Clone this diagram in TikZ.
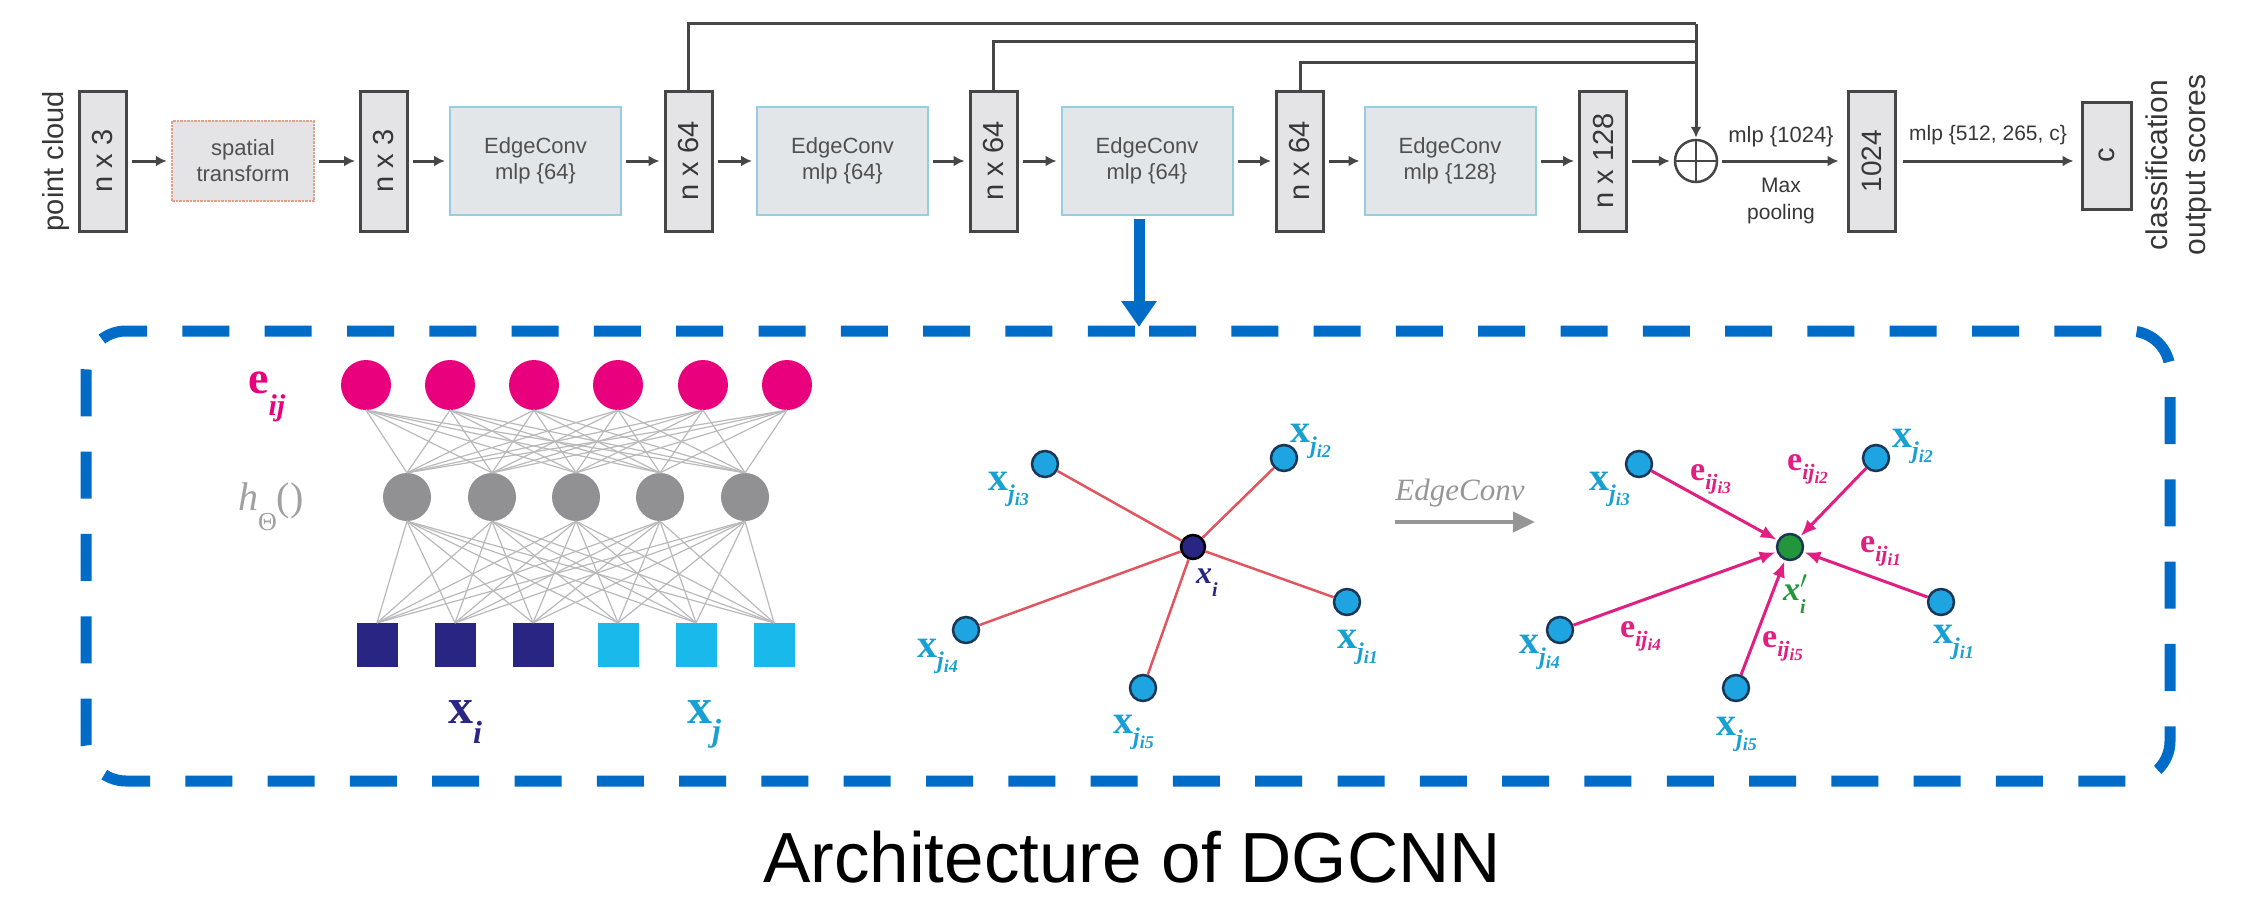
\documentclass[tikz,border=0pt]{standalone}
\usepackage{fontspec}
\setmainfont{Liberation Sans}
\newfontfamily\tms{Liberation Serif}
\usetikzlibrary{arrows.meta}

\definecolor{boxgray}{RGB}{228,228,230}
\definecolor{boxline}{RGB}{70,70,70}
\definecolor{ecfill}{RGB}{226,230,233}
\definecolor{ecline}{RGB}{150,205,225}
\definecolor{stline}{RGB}{225,160,140}
\definecolor{txtgray}{RGB}{55,55,55}
\definecolor{ectext}{RGB}{80,80,80}
\definecolor{dgblue}{RGB}{0,108,200}
\definecolor{pinkn}{RGB}{233,0,125}
\definecolor{grayn}{RGB}{145,145,148}
\definecolor{navyn}{RGB}{40,38,130}
\definecolor{cyann}{RGB}{25,185,235}
\definecolor{cyanpt}{RGB}{30,165,225}
\definecolor{cyantxt}{RGB}{25,160,210}
\definecolor{ptline}{RGB}{25,55,85}
\definecolor{rededge}{RGB}{225,85,95}
\definecolor{magedge}{RGB}{225,30,130}
\definecolor{greenn}{RGB}{35,150,60}
\definecolor{netline}{RGB}{185,185,185}
\definecolor{hgray}{RGB}{160,160,160}
\definecolor{arrgray}{RGB}{150,150,150}

\newcommand\fs[2]{\fontsize{#1}{#2}\selectfont}
% neighbour point label x_{j_{ik}}
\newcommand\xj[1]{{\tms\fs{40}{40}\bfseries x\raisebox{-11pt}{\fs{24}{24}\itshape j\raisebox{-4pt}{\fs{18}{18}i#1}}}}
% edge feature label e_{ij_{ik}}
\newcommand\eij[1]{{\tms\fs{34}{34}\bfseries e\raisebox{-9pt}{\fs{22}{22}\itshape ij\raisebox{-4pt}{\fs{17}{17}i#1}}}}

\begin{document}
\begin{tikzpicture}[x=1pt,y=-1pt,
  vbox/.style={draw=boxline,line width=3pt,fill=boxgray,minimum width=47pt,minimum height=140pt,inner sep=0pt},
  vlab/.style={rotate=90,inner sep=0pt,font=\fs{29}{29},text=txtgray},
  ecbox/.style={draw=ecline,line width=2pt,fill=ecfill,minimum width=171pt,minimum height=108pt,inner sep=0pt,align=center,font=\fs{22}{26},text=ectext},
  flow/.style={draw=boxline,line width=3pt,-{Latex[length=11pt,width=11pt]},shorten <=4pt,shorten >=4pt},
  skipline/.style={draw=boxline,line width=3pt},
  pinkc/.style={circle,fill=pinkn,minimum size=50pt,inner sep=0pt},
  grayc/.style={circle,fill=grayn,minimum size=48pt,inner sep=0pt},
  sqi/.style={fill=navyn,minimum width=41pt,minimum height=44pt,inner sep=0pt},
  sqj/.style={fill=cyann,minimum width=41pt,minimum height=44pt,inner sep=0pt},
  netl/.style={draw=netline,line width=1.2pt},
  ptnode/.style={circle,draw=ptline,line width=2.5pt,fill=cyanpt,minimum size=26pt,inner sep=0pt},
  lab/.style={anchor=base west,inner sep=0pt},
  rline/.style={draw=rededge,line width=2.5pt},
  marrow/.style={draw=magedge,line width=3pt,-{Latex[length=16pt,width=13pt]},shorten >=1pt},
  toptxt/.style={inner sep=0pt,text=txtgray}
]
\useasboundingbox (0,0) rectangle (2254,899);

% ---------------- pipeline ----------------
\node[toptxt,rotate=90,font=\fs{29}{29}] (pc) at (56,161) {point cloud};

\node[vbox] (b1) at (102.5,161) {};
\node[vlab] (b1t) at (b1) {n x 3};

\node[draw=stline,densely dotted,line width=2.5pt,fill=boxgray,minimum width=142pt,minimum height=80pt,
      align=center,font=\fs{22}{26},text=ectext] (sp) at (243,161) {spatial\\transform};

\node[vbox] (b2) at (384,161) {};
\node[vlab] (b2t) at (b2) {n x 3};

\node[ecbox] (ec1) at (535.5,161) {EdgeConv\\mlp \{64\}};

\node[vbox] (b3) at (688.5,161) {};
\node[vlab] (b3t) at (b3) {n x 64};

\node[ecbox] (ec2) at (842.5,161) {EdgeConv\\mlp \{64\}};

\node[vbox] (b4) at (993.5,161) {};
\node[vlab] (b4t) at (b4) {n x 64};

\node[ecbox] (ec3) at (1147,161) {EdgeConv\\mlp \{64\}};

\node[vbox] (b5) at (1300,161) {};
\node[vlab] (b5t) at (b5) {n x 64};

\node[ecbox] (ec4) at (1450,161) {EdgeConv\\mlp \{128\}};

\node[vbox] (b6) at (1603,161) {};
\node[vlab] (b6t) at (b6) {n x 128};

\node[circle,draw=boxline,line width=2.5pt,minimum size=42pt,inner sep=0pt] (op) at (1696,161) {};
\draw[boxline,line width=2pt] (op.north) -- (op.south) (op.west) -- (op.east);

\node[vbox] (b7) at (1871.5,161) {};
\node[vlab,font=\fs{28}{28}] (b7t) at (b7) {1024};

\node[vbox,minimum width=49pt,minimum height=107pt] (cb) at (2106.5,155.5) {};
\node[vlab] (cbt) at (cb) {c};

\node[toptxt,rotate=90,align=center,font=\fs{30}{38}] (cls) at (2179,165) {classification\\output scores};

\node[toptxt,font=\fs{22}{22}] (mlpa) at (1781,137) {mlp \{1024\}};
\node[toptxt,align=center,font=\fs{21}{27}] (maxp) at (1781,201) {Max\\pooling};
\node[toptxt,font=\fs{21}{21}] (mlpb) at (1988,135) {mlp \{512, 265, c\}};

\draw[flow] (b1) -- (sp);
\draw[flow] (sp) -- (b2);
\draw[flow] (b2) -- (ec1);
\draw[flow] (ec1) -- (b3);
\draw[flow] (b3) -- (ec2);
\draw[flow] (ec2) -- (b4);
\draw[flow] (b4) -- (ec3);
\draw[flow] (ec3) -- (b5);
\draw[flow] (b5) -- (ec4);
\draw[flow] (ec4) -- (b6);
\draw[flow] (b6) -- (op);
\draw[flow,shorten >=8pt] (op) -- (b7);
\draw[flow,shorten <=6pt,shorten >=7pt] (b7.east) -- (b7.east -| cb.west);

% skip connections into the concatenation
\coordinate (s1) at (1696,24);
\coordinate (s2) at (1696,42);
\coordinate (s3) at (1696,63);
\draw[skipline] (b3.north) |- (s1);
\draw[skipline] (b4.north) |- (s2);
\draw[skipline] (b5.north) |- (s3);
\draw[flow,shorten <=0pt,shorten >=1pt] (s1) -- (op.north);

% zoom arrow into the EdgeConv detail
\coordinate (za) at (1139,219);
\coordinate (zb) at (1139,327);
\draw[dgblue,line width=11pt,-{Triangle[length=26pt,width=34pt]}] (za) -- (zb);

% dashed frame of the detail panel
\draw[dgblue,line width=11pt,dash pattern=on 47pt off 35.3pt,rounded corners=40pt]
  (1109,331) -- (2170,331) -- (2170,781) -- (86,781) -- (86,331) -- cycle;

% ---------------- edge function network ----------------
\foreach \xx [count=\k] in {366,450,534,618,703,787}
  \node[pinkc] (p\k) at (\xx,385) {};
\foreach \xx [count=\k] in {407,492,576,660,745}
  \node[grayc] (g\k) at (\xx,497) {};
\foreach \xx [count=\k] in {377,455,533}
  \node[sqi] (q\k) at (\xx,645) {};
\foreach \xx [count=\k from 4] in {618,696,774}
  \node[sqj] (q\k) at (\xx,645) {};

\foreach \ii in {1,...,6}{
  \foreach \jj in {1,...,5}{
    \draw[netl] (q\ii.north) -- (g\jj.south);
    \draw[netl] (g\jj.north) -- (p\ii.south);
  }
}

\node[lab,text=pinkn] (eijl) at (248,393)
  {\tms\fs{46}{46}\bfseries e\raisebox{-22pt}{\fs{30}{30}\itshape ij}};
\node[lab,text=hgray] (hl) at (238,510)
  {\tms\fs{40}{40}\itshape h\raisebox{-20pt}{\fs{26}{26}\upshape Θ}\upshape()};
\node[lab,text=navyn] (xil) at (448,723)
  {\tms\fs{50}{50}\bfseries x\raisebox{-20pt}{\fs{32}{32}\itshape i}};
\node[lab,text=cyantxt] (xjl) at (687,723)
  {\tms\fs{50}{50}\bfseries x\raisebox{-18pt}{\fs{32}{32}\itshape j}};

% ---------------- k-NN graph before EdgeConv ----------------
\node[ptnode,fill=navyn,draw=black,minimum size=24pt] (m0) at (1193,547) {};
\node[ptnode] (m1) at (1347,602) {};
\node[ptnode] (m2) at (1284,458) {};
\node[ptnode] (m3) at (1045,464) {};
\node[ptnode] (m4) at (966,630) {};
\node[ptnode] (m5) at (1143,688) {};
\foreach \k in {1,...,5} \draw[rline] (m0) -- (m\k);

\node[lab,text=navyn] (m0l) at (1196,583)
  {\tms\fs{32}{32}\bfseries\itshape x\raisebox{-13pt}{\fs{20}{20}i}};
\node[lab,text=cyantxt] (m1l) at (1337,648) {\xj{1}};
\node[lab,text=cyantxt] (m2l) at (1290,442) {\xj{2}};
\node[lab,text=cyantxt] (m3l) at (988,490) {\xj{3}};
\node[lab,text=cyantxt] (m4l) at (917,657) {\xj{4}};
\node[lab,text=cyantxt] (m5l) at (1113,733) {\xj{5}};

% EdgeConv step arrow
\node[inner sep=0pt,text=arrgray,font=\tms\fs{31}{31}\itshape] (ecl) at (1460,493) {EdgeConv};
\coordinate (ea) at (1395,522);
\coordinate (eb) at (1535,522);
\draw[arrgray,line width=4pt,-{Triangle[length=22pt,width=20pt]}] (ea) -- (eb);

% ---------------- aggregated graph after EdgeConv ----------------
\node[ptnode,fill=greenn,draw=ptline] (r0) at (1790,547) {};
\node[ptnode] (r1) at (1941,602) {};
\node[ptnode] (r2) at (1876,458) {};
\node[ptnode] (r3) at (1639,464) {};
\node[ptnode] (r4) at (1560,630) {};
\node[ptnode] (r5) at (1736,688) {};
\foreach \k in {1,...,5} \draw[marrow] (r\k) -- (r0);

\node[lab,text=greenn] (r0l) at (1783,600)
  {\tms\fs{34}{34}\bfseries\itshape x\rlap{\raisebox{12pt}{\fs{26}{26}$\prime$}}\raisebox{-13pt}{\fs{20}{20}i}};
\node[lab,text=cyantxt] (r1l) at (1933,643) {\xj{1}};
\node[lab,text=cyantxt] (r2l) at (1892,447) {\xj{2}};
\node[lab,text=cyantxt] (r3l) at (1589,490) {\xj{3}};
\node[lab,text=cyantxt] (r4l) at (1519,653) {\xj{4}};
\node[lab,text=cyantxt] (r5l) at (1716,735) {\xj{5}};

\node[lab,text=magedge] (e1l) at (1860,552) {\eij{1}};
\node[lab,text=magedge] (e2l) at (1787,470) {\eij{2}};
\node[lab,text=magedge] (e3l) at (1690,480) {\eij{3}};
\node[lab,text=magedge] (e4l) at (1620,637) {\eij{4}};
\node[lab,text=magedge] (e5l) at (1762,647) {\eij{5}};

% ---------------- caption ----------------
\node[anchor=base,inner sep=0pt,font=\fs{71}{71}] (cap) at (1132,882) {Architecture of DGCNN};
\end{tikzpicture}
\end{document}
